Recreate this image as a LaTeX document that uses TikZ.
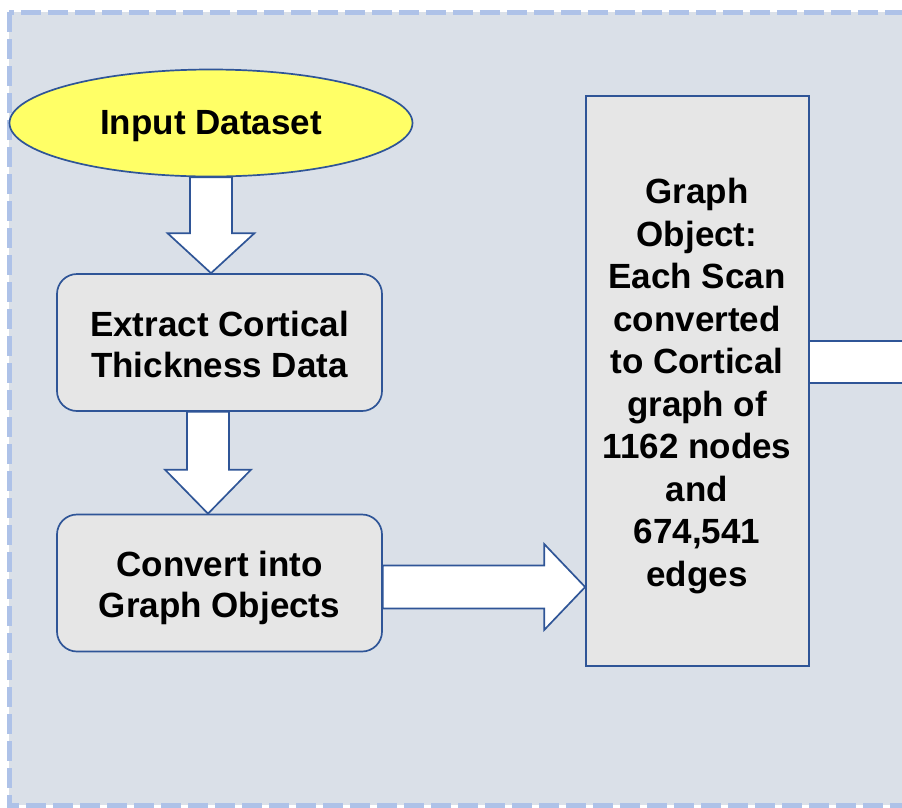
\documentclass[tikz,border=0pt]{standalone}
\usepackage{fontspec}
\setmainfont{Liberation Sans}
\usetikzlibrary{shapes.geometric,calc}
\definecolor{bgfill}{HTML}{DAE0E8}
\definecolor{dashcol}{HTML}{AEC2E8}
\definecolor{edgeblue}{HTML}{2F5597}
\definecolor{boxfill}{HTML}{E6E6E6}
\definecolor{yell}{HTML}{FFFF66}
\begin{document}
\begin{tikzpicture}[x=1pt,y=-1pt,
  every node/.style={font=\fontsize{35}{41}\selectfont\bfseries, align=center, inner sep=0pt},
  stepbox/.style={draw=edgeblue, line width=1.7pt, fill=boxfill, rounded corners=20pt, minimum width=325pt, minimum height=137pt},
  tallbox/.style={draw=edgeblue, line width=1.7pt, fill=boxfill, minimum width=223pt, minimum height=570pt},
  startnode/.style={ellipse, draw=edgeblue, line width=1.7pt, fill=yell, minimum width=403pt, minimum height=107pt},
  blockarrow/.style={draw=edgeblue, line width=1.7pt, fill=white, line join=miter}
]
\useasboundingbox (0,0) rectangle (902,807);
\clip (0,0) rectangle (902,807);
\draw[dashcol, fill=bgfill, line width=5pt, dash pattern=on 20pt off 7pt] (9,12) rectangle (960,805);

\node[startnode] (input) at (211,123) {};
\node (inputtxt) at (211,126) {Input Dataset};
\node[stepbox] (extract) at (219.5,342.5) {};
\node (extracttxt) at (219.5,344) {Extract Cortical\\Thickness Data};
\node[stepbox] (convert) at (219.5,583) {};
\node (converttxt) at (219.5,588) {Convert into\\Graph Objects};
\node[tallbox] (graph) at (697.5,381) {};
\node[font=\fontsize{35}{42.5}\selectfont\bfseries] (graphtxt) at (697,386)
  {Graph\\Object:\\Each Scan\\converted\\to Cortical\\graph of\\1162 nodes\\and\\674,541\\edges};

% arrow 1
\coordinate (a1s) at (input.south);
\coordinate (a1t) at (input.south |- extract.north);
\draw[blockarrow] ($(a1s)+(-21,0)$) -- ($(a1t)+(-21,-40)$) -- ($(a1t)+(-43.5,-40)$) -- (a1t)
  -- ($(a1t)+(43.5,-40)$) -- ($(a1t)+(21,-40)$) -- ($(a1s)+(21,0)$) -- cycle;

% arrow 2
\coordinate (a2s) at ($(extract.south)+(-11.5,0)$);
\coordinate (a2t) at ($(convert.north)+(-11.5,0)$);
\draw[blockarrow] ($(a2s)+(-21,0)$) -- ($(a2t)+(-21,-44)$) -- ($(a2t)+(-43,-44)$) -- (a2t)
  -- ($(a2t)+(43,-44)$) -- ($(a2t)+(21,-44)$) -- ($(a2s)+(21,0)$) -- cycle;

% arrow 3
\coordinate (a3s) at ($(convert.east)+(0,4)$);
\coordinate (a3t) at ($(graph.west |- a3s)$);
\draw[blockarrow] ($(a3s)+(0,-21.5)$) -- ($(a3t)+(-41,-21.5)$) -- ($(a3t)+(-41,-43)$) -- (a3t)
  -- ($(a3t)+(-41,43)$) -- ($(a3t)+(-41,21.5)$) -- ($(a3s)+(0,21.5)$) -- cycle;

% arrow 4 (leaving the picture)
\coordinate (a4s) at ($(graph.east)+(0,-19)$);
\coordinate (a4e) at ($(a4s)+(150,0)$);
\fill[white] ($(a4s)+(0,-21)$) rectangle ($(a4e)+(0,21)$);
\draw[edgeblue, line width=1.7pt] ($(a4s)+(0,-21)$) -- ($(a4e)+(0,-21)$);
\draw[edgeblue, line width=1.7pt] ($(a4s)+(0,21)$) -- ($(a4e)+(0,21)$);
\end{tikzpicture}
\end{document}
